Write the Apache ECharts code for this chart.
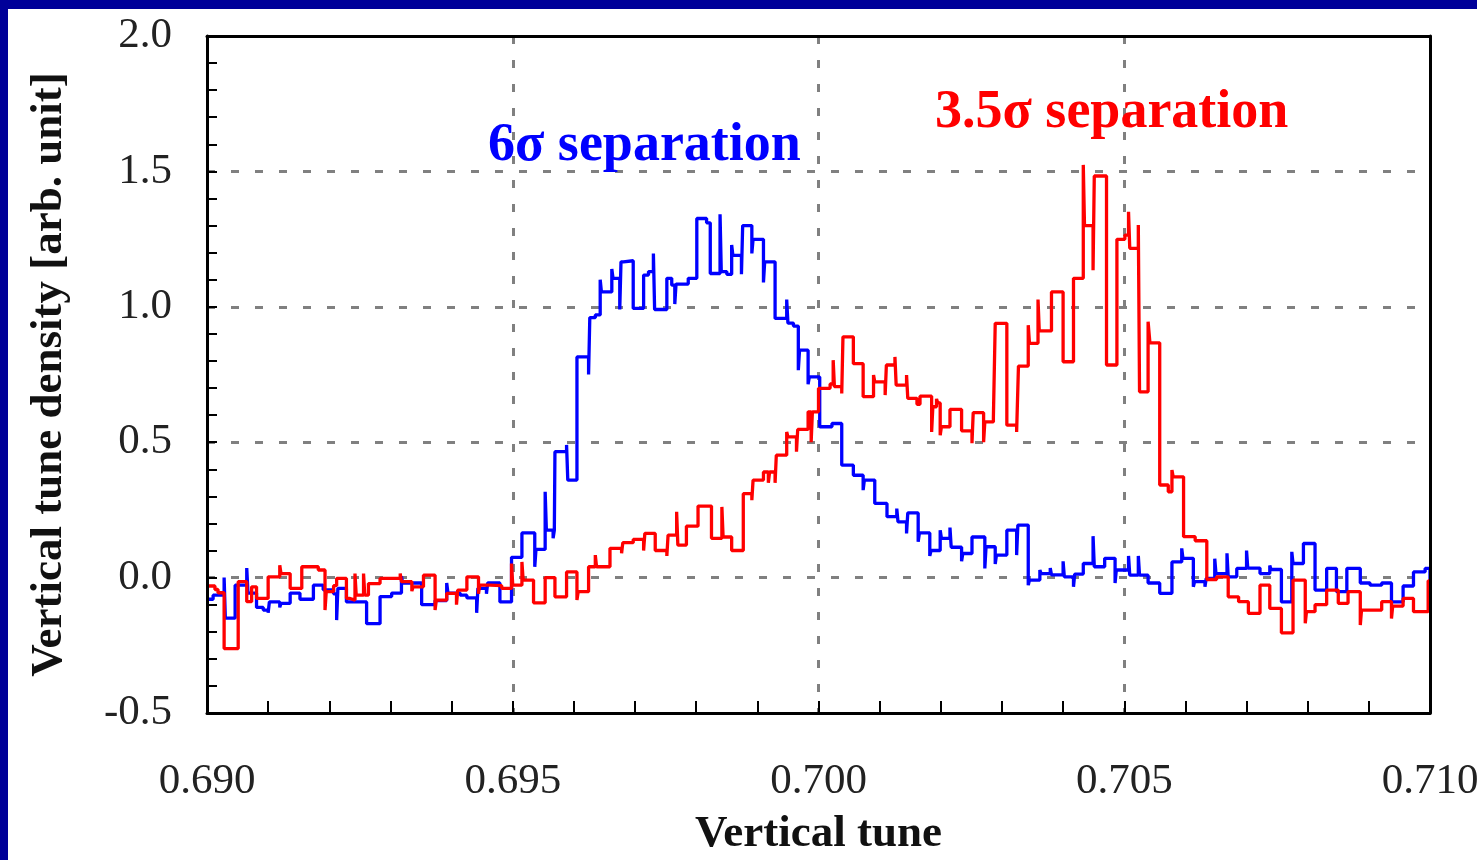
<!DOCTYPE html>
<html>
<head>
<meta charset="utf-8">
<script src="https://cdn.jsdelivr.net/npm/echarts@6/dist/echarts.min.js"></script>
<style>
  html, body { margin: 0; padding: 0; background: #ffffff; overflow: hidden; }
  #chart { position: absolute; left: 0; top: 0; width: 1477px; height: 860px; background: #ffffff; }
  .frameTop { position: absolute; left: 0; top: 0; width: 1477px; height: 9px; background: #000099; }
  .frameLeft { position: absolute; left: 0; top: 0; width: 8px; height: 860px; background: #000099; }
</style>
</head>
<body>
<div id="chart"></div>
<div class="frameTop"></div>
<div class="frameLeft"></div>
<script>
// ---- data: [tune, density] step breakpoints (level holds until next point) ----
const blueSteps = [
  [0.69000,-0.08],[0.69010,-0.065],[0.69028,0.0],[0.69030,-0.15],[0.69046,-0.028],
  [0.69065,0.035],[0.69067,-0.057],[0.69081,-0.11],[0.69092,-0.12],[0.69100,-0.13],[0.69102,-0.09],
  [0.69119,-0.11],[0.69121,-0.095],[0.69136,-0.057],[0.69152,-0.08],[0.69174,-0.028],[0.69190,-0.045],
  [0.69207,-0.06],[0.69212,-0.157],[0.69214,-0.04],[0.69228,-0.09],[0.69261,-0.17],[0.69283,-0.07],
  [0.69302,-0.057],[0.69318,0.005],[0.69320,-0.02],[0.69351,-0.1],[0.69373,-0.085],[0.69392,-0.02],
  [0.69394,-0.057],[0.69414,-0.065],[0.69425,-0.075],[0.69441,-0.13],[0.69443,-0.04],[0.69457,-0.06],
  [0.69459,-0.02],[0.69479,-0.09],[0.69498,0.075],[0.69515,0.165],[0.69536,0.04],[0.69538,0.104],
  [0.69553,0.317],[0.69555,0.175],[0.69566,0.145],[0.69568,0.175],[0.69569,0.465],[0.69588,0.49],
  [0.69590,0.36],[0.69605,0.815],[0.69624,0.75],[0.69626,0.96],[0.69635,0.97],[0.69643,1.10],
  [0.69645,1.055],[0.69662,1.14],[0.69664,1.105],[0.69675,0.99],[0.69677,1.166],[0.69681,1.17],
  [0.69697,0.994],[0.69714,1.117],[0.69722,1.13],[0.69730,1.197],[0.69732,0.99],[0.69752,1.105],
  [0.69760,1.08],[0.69765,1.01],[0.69767,1.084],[0.69787,1.105],[0.69801,1.326],[0.69817,1.31],
  [0.69823,1.123],[0.69839,1.342],[0.69841,1.13],[0.69850,1.12],[0.69858,1.228],[0.69860,1.19],
  [0.69874,1.12],[0.69876,1.30],[0.69891,1.197],[0.69893,1.249],[0.69910,1.09],[0.69912,1.166],
  [0.69929,0.957],[0.69948,1.027],[0.69950,0.94],[0.69959,0.929],[0.69967,0.766],[0.69969,0.84],
  [0.69983,0.714],[0.69985,0.741],[0.70002,0.557],[0.70022,0.569],[0.70038,0.415],[0.70057,0.378],
  [0.70073,0.323],[0.70075,0.36],[0.70092,0.274],[0.70112,0.225],[0.70128,0.255],[0.70130,0.206],
  [0.70144,0.163],[0.70146,0.239],[0.70163,0.132],[0.70165,0.165],[0.70182,0.08],[0.70184,0.10],
  [0.70199,0.175],[0.70201,0.145],[0.70215,0.185],[0.70217,0.112],[0.70234,0.06],[0.70236,0.089],
  [0.70251,0.15],[0.70272,0.034],[0.70274,0.114],[0.70289,0.05],[0.70291,0.083],[0.70308,0.175],
  [0.70324,0.083],[0.70326,0.194],[0.70343,-0.028],[0.70345,-0.009],[0.70362,0.028],[0.70364,0.015],
  [0.70379,0.035],[0.70381,0.01],[0.70400,0.06],[0.70402,0.003],[0.70417,-0.034],[0.70419,0.013],
  [0.70433,0.052],[0.70449,0.153],[0.70451,0.04],[0.70468,0.071],[0.70485,-0.02],[0.70487,0.028],
  [0.70507,0.08],[0.70509,0.009],[0.70523,0.08],[0.70525,0.009],[0.70539,-0.02],[0.70558,-0.058],
  [0.70578,0.058],[0.70594,0.108],[0.70596,0.071],[0.70613,-0.034],[0.70615,-0.015],[0.70632,-0.034],
  [0.70634,-0.003],[0.70648,0.07],[0.70650,0.015],[0.70668,0.09],[0.70670,0.003],[0.70684,0.034],
  [0.70700,0.10],[0.70702,0.035],[0.70722,0.015],[0.70738,0.045],[0.70740,0.03],[0.70757,-0.09],
  [0.70774,0.095],[0.70776,0.052],[0.70793,0.126],[0.70812,-0.046],[0.70831,0.034],[0.70847,-0.052],
  [0.70864,0.034],[0.70886,-0.02],[0.70902,-0.028],[0.70921,-0.02],[0.70937,-0.09],[0.70956,-0.031],
  [0.70973,0.021],[0.70992,0.034],[0.71000,-0.06]
];
const redSteps = [
  [0.69000,-0.031],[0.69013,-0.044],[0.69018,-0.056],[0.69028,-0.262],[0.69051,-0.015],
  [0.69065,-0.089],[0.69073,-0.034],[0.69081,-0.077],[0.69100,0.003],[0.69119,0.046],[0.69121,0.015],
  [0.69136,-0.04],[0.69155,0.04],[0.69182,0.028],[0.69193,-0.12],[0.69195,-0.052],[0.69207,-0.03],
  [0.69212,-0.003],[0.69228,-0.077],[0.69234,-0.083],[0.69242,0.015],[0.69244,-0.065],[0.69256,0.015],
  [0.69258,-0.065],[0.69264,-0.022],[0.69283,-0.003],[0.69316,0.015],[0.69318,-0.015],[0.69335,-0.05],
  [0.69337,-0.034],[0.69354,0.009],[0.69373,-0.12],[0.69375,-0.083],[0.69392,-0.058],[0.69408,-0.1],
  [0.69410,-0.046],[0.69425,0.003],[0.69444,-0.06],[0.69446,-0.028],[0.69463,-0.03],[0.69482,-0.04],
  [0.69498,0.052],[0.69500,-0.028],[0.69515,0.058],[0.69517,-0.009],[0.69534,-0.093],[0.69553,0.0],
  [0.69569,-0.071],[0.69588,0.021],[0.69605,-0.083],[0.69607,-0.052],[0.69624,0.04],[0.69635,0.083],
  [0.69637,0.04],[0.69659,0.108],[0.69678,0.09],[0.69680,0.129],[0.69697,0.141],[0.69714,0.10],
  [0.69716,0.163],[0.69733,0.10],[0.69752,0.08],[0.69754,0.157],[0.69768,0.243],[0.69770,0.12],
  [0.69784,0.19],[0.69803,0.264],[0.69825,0.145],[0.69842,0.261],[0.69844,0.15],[0.69858,0.10],
  [0.69877,0.31],[0.69891,0.286],[0.69893,0.36],[0.69910,0.39],[0.69918,0.35],[0.69920,0.39],
  [0.69929,0.35],[0.69931,0.452],[0.69948,0.538],[0.69950,0.52],[0.69964,0.465],[0.69966,0.547],
  [0.69983,0.612],[0.69988,0.50],[0.69990,0.612],[0.70000,0.699],[0.70019,0.715],[0.70024,0.803],
  [0.70026,0.705],[0.70038,0.68],[0.70040,0.889],[0.70057,0.79],[0.70073,0.668],[0.70090,0.748],
  [0.70092,0.723],[0.70109,0.674],[0.70111,0.785],[0.70125,0.815],[0.70127,0.711],[0.70144,0.748],
  [0.70146,0.662],[0.70161,0.64],[0.70166,0.67],[0.70185,0.538],[0.70187,0.631],[0.70193,0.66],
  [0.70195,0.645],[0.70199,0.526],[0.70201,0.557],[0.70215,0.621],[0.70234,0.542],[0.70251,0.496],
  [0.70253,0.609],[0.70270,0.50],[0.70272,0.575],[0.70286,0.59],[0.70289,0.939],[0.70308,0.563],
  [0.70324,0.538],[0.70327,0.781],[0.70343,0.932],[0.70345,0.865],[0.70359,1.027],[0.70361,0.911],
  [0.70381,1.055],[0.70400,0.797],[0.70417,1.105],[0.70433,1.524],[0.70435,1.30],[0.70449,1.135],
  [0.70451,1.483],[0.70471,0.785],[0.70488,1.249],[0.70501,1.265],[0.70507,1.351],[0.70509,1.216],
  [0.70523,1.302],[0.70525,0.686],[0.70539,0.945],[0.70542,0.867],[0.70558,0.342],[0.70572,0.317],
  [0.70578,0.397],[0.70580,0.372],[0.70597,0.151],[0.70616,0.136],[0.70635,-0.007],[0.70651,0.003],
  [0.70670,-0.071],[0.70687,-0.089],[0.70703,-0.132],[0.70722,-0.028],[0.70738,-0.114],[0.70757,-0.204],
  [0.70776,-0.009],[0.70796,-0.169],[0.70798,-0.126],[0.70812,-0.10],[0.70831,-0.046],[0.70850,-0.095],
  [0.70866,-0.052],[0.70886,-0.175],[0.70888,-0.12],[0.70902,-0.12],[0.70921,-0.089],[0.70937,-0.151],
  [0.70939,-0.105],[0.70956,-0.077],[0.70973,-0.126],[0.70997,-0.012],[0.71000,-0.012]
];
const xTitle = 'Vertical tune';
const yTitle = 'Vertical tune density [arb. unit]';
const blueLabel = '6σ separation';
const redLabel = '3.5σ separation';

const SERIF = '"Liberation Serif", "DejaVu Serif", serif';
const chart = echarts.init(document.getElementById('chart'), null, { renderer: 'canvas', width: 1477, height: 860 });

const X_MIN = 0.690, X_MAX = 0.710, Y_MIN = -0.5, Y_MAX = 2.0;
const frameLine = { show: true, onZero: false, lineStyle: { color: '#000', width: 3 } };
const gridSplit = { show: true, lineStyle: { color: '#808080', width: 3, type: [8, 16] } };
const hidden = { show: false };

chart.setOption({
  animation: false,
  backgroundColor: '#ffffff',
  grid: { left: 207, top: 36, right: 47, bottom: 147, containLabel: false, outerBoundsMode: 'none' },
  xAxis: [{
    type: 'value', min: X_MIN, max: X_MAX, interval: 0.005, position: 'bottom', z: 6,
    name: xTitle, nameLocation: 'middle', nameGap: 99,
    nameTextStyle: { fontFamily: SERIF, fontWeight: 'bold', fontSize: 45, color: '#111' },
    axisLine: frameLine,
    axisTick: { show: true, inside: true, length: 12, lineStyle: { color: '#000', width: 2 } },
    minorTick: { show: true, splitNumber: 5, length: 12, lineStyle: { color: '#000', width: 2 } },
    axisLabel: { fontFamily: SERIF, fontSize: 43, color: '#222', margin: 47, hideOverlap: false,
      formatter: v => v.toFixed(3) },
    splitLine: hidden
  }, {
    type: 'value', min: X_MIN, max: X_MAX, position: 'top', z: 6,
    axisLine: frameLine, axisTick: hidden, axisLabel: hidden, splitLine: hidden
  }, {
    type: 'value', min: X_MIN, max: X_MAX, interval: 0.005, position: 'bottom', z: 1,
    axisLine: hidden, axisTick: hidden, axisLabel: hidden, splitLine: gridSplit
  }],
  yAxis: [{
    type: 'value', min: Y_MIN, max: Y_MAX, interval: 0.5, position: 'left', z: 6,
    name: yTitle, nameLocation: 'middle', nameGap: 135, nameRotate: 90,
    nameTextStyle: { fontFamily: SERIF, fontWeight: 'bold', fontSize: 45, color: '#111' },
    axisLine: frameLine,
    axisTick: { show: true, inside: true, length: 10, lineStyle: { color: '#000', width: 2 } },
    minorTick: { show: true, splitNumber: 5, length: 10, lineStyle: { color: '#000', width: 2 } },
    axisLabel: { fontFamily: SERIF, fontSize: 43, color: '#222', margin: 35,
      formatter: v => v.toFixed(1) },
    splitLine: hidden
  }, {
    type: 'value', min: Y_MIN, max: Y_MAX, position: 'right', z: 6,
    axisLine: frameLine, axisTick: hidden, axisLabel: hidden, splitLine: hidden
  }, {
    type: 'value', min: Y_MIN, max: Y_MAX, interval: 0.5, position: 'left', z: 1,
    axisLine: hidden, axisTick: hidden, axisLabel: hidden, splitLine: gridSplit
  }],
  series: [{
    name: 'blue', type: 'line', step: 'end', data: blueSteps, showSymbol: false, z: 3,
    xAxisIndex: 0, yAxisIndex: 0, clip: true,
    lineStyle: { color: '#0000ff', width: 3.3 }, itemStyle: { color: '#0000ff' }
  }, {
    name: 'red', type: 'line', step: 'end', data: redSteps, showSymbol: false, z: 4,
    xAxisIndex: 0, yAxisIndex: 0, clip: true,
    lineStyle: { color: '#ff0000', width: 3.3 }, itemStyle: { color: '#ff0000' }
  }],
  graphic: [{
    type: 'text', left: 488, top: 119, z: 10,
    style: { text: blueLabel, font: 'bold 54px ' + SERIF, fill: '#0000ff' }
  }, {
    type: 'text', left: 935, top: 86, z: 10,
    style: { text: redLabel, font: 'bold 54px ' + SERIF, fill: '#ff0000' }
  }]
});
</script>
</body>
</html>
